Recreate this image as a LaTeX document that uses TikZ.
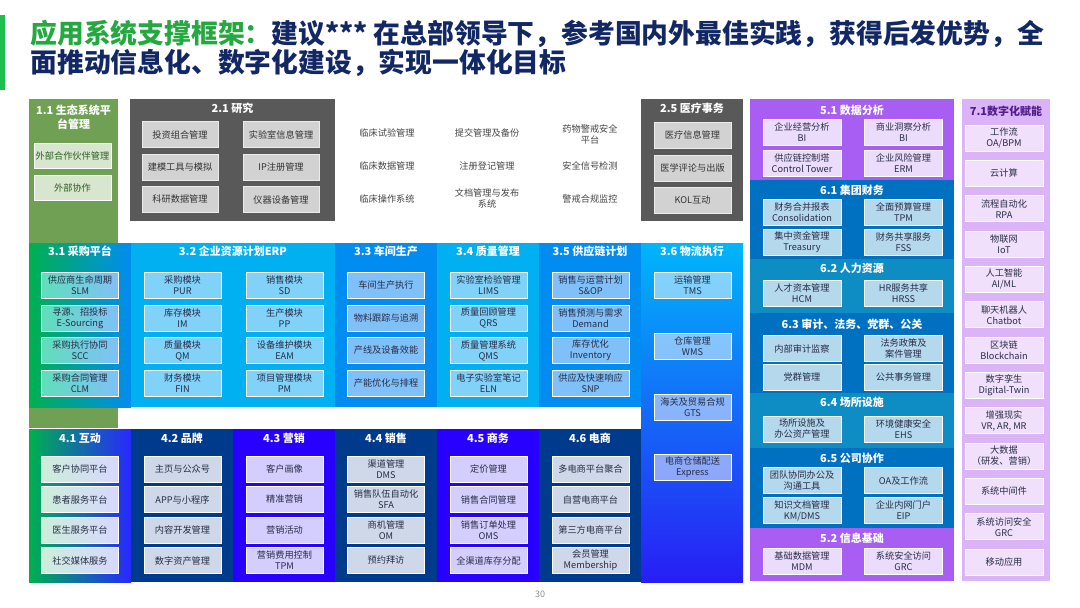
\documentclass[tikz,border=0pt]{standalone}
\usepackage{fontspec}
\setmainfont{Noto Sans CJK SC}
\usepackage{xcolor}
\usepackage{tikz}
\usetikzlibrary{positioning}
\definecolor{titlegreen}{RGB}{36,168,64}
\definecolor{titlenavy}{RGB}{18,40,100}
\definecolor{barg}{RGB}{30,190,80}
\definecolor{ecogreen}{RGB}{112,160,84}
\definecolor{ecoitem}{RGB}{216,230,208}
\definecolor{ecotxt}{RGB}{40,95,30}
\definecolor{resgray}{RGB}{89,89,89}
\definecolor{resitem}{RGB}{210,210,210}
\definecolor{midgray}{RGB}{70,70,70}
\definecolor{cyanA}{RGB}{0,176,240}
\definecolor{cyanAi}{RGB}{128,210,248}
\definecolor{blueB}{RGB}{0,140,240}
\definecolor{blueBi}{RGB}{128,192,248}
\definecolor{grnA}{RGB}{0,176,80}
\definecolor{navyC}{RGB}{0,58,140}
\definecolor{navyCi}{RGB}{206,216,232}
\definecolor{violD}{RGB}{40,0,255}
\definecolor{violDi}{RGB}{212,206,255}
\definecolor{purA}{RGB}{168,94,242}
\definecolor{puri}{RGB}{236,220,252}
\definecolor{finblue}{RGB}{0,112,192}
\definecolor{finteal}{RGB}{14,140,196}
\definecolor{fini}{RGB}{180,216,236}
\definecolor{digi}{RGB}{218,180,246}
\definecolor{digii}{RGB}{240,224,252}
\definecolor{digtxt}{RGB}{80,30,140}
\definecolor{itxt}{RGB}{40,45,70}
\tikzset{
  panel/.style={rectangle, inner sep=0pt, anchor=north west, minimum width=102pt},
  ttl/.style={font=\bfseries\fontsize{11}{14}\selectfont, text=white, align=center},
  itm/.style={rectangle, draw=white, line width=0.7pt, minimum width=77pt, minimum height=26pt,
              inner sep=1pt, align=center, font=\fontsize{9.2}{11}\selectfont, text=itxt},
  ritm/.style={itm, minimum width=78pt, fill=fini},
  mid/.style={align=center, font=\fontsize{9.2}{11}\selectfont, text=midgray}
}
\begin{document}
\begin{tikzpicture}[x=1pt, y=-1pt]
  \useasboundingbox (0,0) rectangle (1080,608);
  \fill[white] (0,0) rectangle (1080,608);
  % Title
  \fill[barg] (0,15) rectangle (5,90);
  \node[anchor=west, align=left, font=\bfseries\fontsize{26.8}{29}\selectfont, text=titlenavy] (title) at (27,48)
    {\textcolor{titlegreen}{应用系统支撑框架：}建议*** 在总部领导下，参考国内外最佳实践，获得后发优势，全\\面推动信息化、数字化建设，实现一体化目标};
  % Row 1
  \node[panel, fill=ecogreen, minimum width=89pt, minimum height=329pt] (p11) at (29,99) {};
  \node[ttl] (t11) at (73.5,117) {1.1 生态系统平\\台管理};
  \node[itm, fill=ecoitem, text=ecotxt, minimum height=25pt] (eco1) at (72.5,155.5) {外部合作伙伴管理};
  \node[itm, fill=ecoitem, text=ecotxt, minimum height=25pt] (eco2) at (72.5,188) {外部协作};
  \node[panel, fill=resgray, minimum width=205pt, minimum height=122pt] (p21) at (130,99) {};
  \node[ttl] (t21) at (232.5,108) {2.1 研究};
  \node[itm, fill=resitem, draw=white!85!gray, text=black!80, minimum width=76pt] (res1) at (180,134.5) {投资组合管理};
  \node[itm, fill=resitem, draw=white!85!gray, text=black!80, minimum width=76pt] (res2) at (281,134.5) {实验室信息管理};
  \node[itm, fill=resitem, draw=white!85!gray, text=black!80, minimum width=76pt] (res3) at (180,167) {建模工具与模拟};
  \node[itm, fill=resitem, draw=white!85!gray, text=black!80, minimum width=76pt] (res4) at (281,167) {IP注册管理};
  \node[itm, fill=resitem, draw=white!85!gray, text=black!80, minimum width=76pt] (res5) at (180,199.5) {科研数据管理};
  \node[itm, fill=resitem, draw=white!85!gray, text=black!80, minimum width=76pt] (res6) at (281,199.5) {仪器设备管理};
  \node[mid] (clin1) at (387,133) {临床试验管理};
  \node[mid] (clin2) at (387,166) {临床数据管理};
  \node[mid] (clin3) at (387,199) {临床操作系统};
  \node[mid] (sub1) at (487,133) {提交管理及备份};
  \node[mid] (sub2) at (487,166) {注册登记管理};
  \node[mid] (sub3) at (487,198.5) {文档管理与发布\\系统};
  \node[mid] (pv1) at (590,134) {药物警戒安全\\平台};
  \node[mid] (pv2) at (590,166) {安全信号检测};
  \node[mid] (pv3) at (590,199) {警戒合规监控};
  \node[panel, fill=resgray, minimum height=122pt] (p25) at (641,99) {};
  \node[ttl] (t25) at (692,108) {2.5 医疗事务};
  \node[itm, fill=resitem, draw=white!85!gray, text=black!80] (med1) at (692.5,135) {医疗信息管理};
  \node[itm, fill=resitem, draw=white!85!gray, text=black!80] (med2) at (692.5,168) {医学评论与出版};
  \node[itm, fill=resitem, draw=white!85!gray, text=black!80] (med3) at (692.5,200) {KOL互动};
  % Right block: 5.x / 6.x
  \node[panel, fill=purA, minimum width=204pt, minimum height=81pt] (b51) at (750,99) {};
  \node[panel, fill=finblue, minimum width=204pt, minimum height=79pt] (b61) at (750,180) {};
  \node[panel, fill=finteal, minimum width=204pt, minimum height=54pt] (b62) at (750,259) {};
  \node[panel, fill=finblue, minimum width=204pt, minimum height=80pt] (b63) at (750,313) {};
  \node[panel, fill=finteal, minimum width=204pt, minimum height=55pt] (b64) at (750,393) {};
  \node[panel, fill=finblue, minimum width=204pt, minimum height=80pt] (b65) at (750,448) {};
  \node[panel, fill=purA, minimum width=204pt, minimum height=53pt] (b52) at (750,528) {};
  \node[ttl] (t51) at (852,110) {5.1 数据分析};
  \node[ttl] (t61) at (852,190) {6.1 集团财务};
  \node[ttl] (t62) at (852,268) {6.2 人力资源};
  \node[ttl] (t63) at (852,324) {6.3 审计、法务、党群、公关};
  \node[ttl] (t64) at (852,402) {6.4 场所设施};
  \node[ttl] (t65) at (852,458) {6.5 公司协作};
  \node[ttl] (t52) at (852,538) {5.2 信息基础};
  \node[ritm, fill=puri] (da1) at (802,132) {企业经营分析\\BI};
  \node[ritm, fill=puri] (da2) at (903.5,132) {商业洞察分析\\BI};
  \node[ritm, fill=puri] (da3) at (802,163) {供应链控制塔\\Control Tower};
  \node[ritm, fill=puri] (da4) at (903.5,163) {企业风险管理\\ERM};
  \node[ritm] (fin1) at (802,212) {财务合并报表\\Consolidation};
  \node[ritm] (fin2) at (903.5,212) {全面预算管理\\TPM};
  \node[ritm] (fin3) at (802,242.5) {集中资金管理\\Treasury};
  \node[ritm] (fin4) at (903.5,242.5) {财务共享服务\\FSS};
  \node[ritm] (hr1) at (802,293) {人才资本管理\\HCM};
  \node[ritm] (hr2) at (903.5,293) {HR服务共享\\HRSS};
  \node[ritm] (aud1) at (802,348.5) {内部审计监察};
  \node[ritm] (aud2) at (903.5,348.5) {法务政策及\\案件管理};
  \node[ritm] (aud3) at (802,377) {党群管理};
  \node[ritm] (aud4) at (903.5,377) {公共事务管理};
  \node[ritm] (fac1) at (802,429) {场所设施及\\办公资产管理};
  \node[ritm] (fac2) at (903.5,429) {环境健康安全\\EHS};
  \node[ritm] (cop1) at (802,480.5) {团队协同办公及\\沟通工具};
  \node[ritm] (cop2) at (903.5,480.5) {OA及工作流};
  \node[ritm] (cop3) at (802,510.5) {知识文档管理\\KM/DMS};
  \node[ritm] (cop4) at (903.5,510.5) {企业内网门户\\EIP};
  \node[ritm, fill=puri] (inf1) at (802,561.5) {基础数据管理\\MDM};
  \node[ritm, fill=puri] (inf2) at (903.5,561.5) {系统安全访问\\GRC};
  % 7.1 column
  \node[panel, fill=digi, minimum width=88pt, minimum height=482pt] (p71) at (962,99) {};
  \node[ttl, text=digtxt] (t71) at (1006,111) {7.1数字化赋能};
  \node[ritm, fill=digii] (dig1) at (1004,138) {工作流\\OA/BPM};
  \node[ritm, fill=digii] (dig2) at (1004,173.3) {云计算};
  \node[ritm, fill=digii] (dig3) at (1004,208.7) {流程自动化\\RPA};
  \node[ritm, fill=digii] (dig4) at (1004,244) {物联网\\IoT};
  \node[ritm, fill=digii] (dig5) at (1004,279.3) {人工智能\\AI/ML};
  \node[ritm, fill=digii] (dig6) at (1004,314.7) {聊天机器人\\Chatbot};
  \node[ritm, fill=digii] (dig7) at (1004,350) {区块链\\Blockchain};
  \node[ritm, fill=digii] (dig8) at (1004,385.3) {数字孪生\\Digital-Twin};
  \node[ritm, fill=digii] (dig9) at (1004,420.7) {增强现实\\VR, AR, MR};
  \node[ritm, fill=digii] (dig10) at (1004,456) {大数据\\（研发、营销）};
  \node[ritm, fill=digii] (dig11) at (1004,491.3) {系统中间件};
  \node[ritm, fill=digii] (dig12) at (1004,526.7) {系统访问安全\\GRC};
  \node[ritm, fill=digii] (dig13) at (1004,562) {移动应用};
  % Row 3
  \node[panel, left color=grnA, right color=blueB, minimum height=164pt] (p31) at (29,243) {};
  \node[ttl] (t31) at (80,251) {3.1 采购平台};
  \node[itm, left color=green!25!cyanAi, right color=blueBi] (pur1) at (80,285.5) {供应商生命周期\\SLM};
  \node[itm, left color=green!25!cyanAi, right color=blueBi] (pur2) at (80,318) {寻源、招投标\\E-Sourcing};
  \node[itm, left color=green!25!cyanAi, right color=blueBi] (pur3) at (80,350.5) {采购执行协同\\SCC};
  \node[itm, left color=green!25!cyanAi, right color=blueBi] (pur4) at (80,383) {采购合同管理\\CLM};
  \node[panel, fill=cyanA, minimum width=204pt, minimum height=164pt] (p32) at (131,243) {};
  \node[ttl] (t32) at (233,251) {3.2 企业资源计划ERP};
  \node[itm, fill=cyanAi] (erp1) at (182.5,285.5) {采购模块\\PUR};
  \node[itm, fill=cyanAi] (erp2) at (284.5,285.5) {销售模块\\SD};
  \node[itm, fill=cyanAi] (erp3) at (182.5,318) {库存模块\\IM};
  \node[itm, fill=cyanAi] (erp4) at (284.5,318) {生产模块\\PP};
  \node[itm, fill=cyanAi] (erp5) at (182.5,350.5) {质量模块\\QM};
  \node[itm, fill=cyanAi] (erp6) at (284.5,350.5) {设备维护模块\\EAM};
  \node[itm, fill=cyanAi] (erp7) at (182.5,383) {财务模块\\FIN};
  \node[itm, fill=cyanAi] (erp8) at (284.5,383) {项目管理模块\\PM};
  \node[panel, fill=blueB, minimum height=164pt] (p33) at (335,243) {};
  \node[ttl] (t33) at (386,251) {3.3 车间生产};
  \node[itm, fill=blueBi] (mes1) at (386,285.5) {车间生产执行};
  \node[itm, fill=blueBi] (mes2) at (386,318) {物料跟踪与追溯};
  \node[itm, fill=blueBi] (mes3) at (386,350.5) {产线及设备效能};
  \node[itm, fill=blueBi] (mes4) at (386,383) {产能优化与排程};
  \node[panel, fill=cyanA, minimum height=164pt] (p34) at (437,243) {};
  \node[ttl] (t34) at (488,251) {3.4 质量管理};
  \node[itm, fill=cyanAi] (qm1) at (488.5,285.5) {实验室检验管理\\LIMS};
  \node[itm, fill=cyanAi] (qm2) at (488.5,318) {质量回顾管理\\QRS};
  \node[itm, fill=cyanAi] (qm3) at (488.5,350.5) {质量管理系统\\QMS};
  \node[itm, fill=cyanAi] (qm4) at (488.5,383) {电子实验室笔记\\ELN};
  \node[panel, fill=blueB, minimum height=164pt] (p35) at (539,243) {};
  \node[ttl] (t35) at (590,251) {3.5 供应链计划};
  \node[itm, fill=blueBi] (scp1) at (590.5,285.5) {销售与运营计划\\S\&OP};
  \node[itm, fill=blueBi] (scp2) at (590.5,318) {销售预测与需求\\Demand};
  \node[itm, fill=blueBi] (scp3) at (590.5,350.5) {库存优化\\Inventory};
  \node[itm, fill=blueBi] (scp4) at (590.5,383) {供应及快速响应\\SNP};
  \node[panel, top color={rgb,255:red,0;green,182;blue,250}, bottom color={rgb,255:red,40;green,30;blue,245}, minimum height=339pt] (p36) at (641,243) {};
  \node[ttl] (t36) at (692,251) {3.6 物流执行};
  \node[itm, fill=white, fill opacity=0.5, text opacity=1] (log1) at (692.5,285.5) {运输管理\\TMS};
  \node[itm, fill=white, fill opacity=0.5, text opacity=1] (log2) at (692.5,346) {仓库管理\\WMS};
  \node[itm, fill=white, fill opacity=0.5, text opacity=1] (log3) at (692.5,407) {海关及贸易合规\\GTS};
  \node[itm, fill=white, fill opacity=0.5, text opacity=1] (log4) at (692.5,467.5) {电商仓储配送\\Express};
  % Row 4
  \node[panel, left color=grnA, right color={rgb,255:red,40;green,40;blue,255}, minimum height=153pt] (p41) at (29,429) {};
  \node[ttl] (t41) at (80,438) {4.1 互动};
  \node[itm, left color={rgb,255:red,205;green,238;blue,218}, right color={rgb,255:red,215;green,215;blue,255}] (int1) at (80,469) {客户协同平台};
  \node[itm, left color={rgb,255:red,205;green,238;blue,218}, right color={rgb,255:red,215;green,215;blue,255}] (int2) at (80,499.5) {患者服务平台};
  \node[itm, left color={rgb,255:red,205;green,238;blue,218}, right color={rgb,255:red,215;green,215;blue,255}] (int3) at (80,530) {医生服务平台};
  \node[itm, left color={rgb,255:red,205;green,238;blue,218}, right color={rgb,255:red,215;green,215;blue,255}] (int4) at (80,560.5) {社交媒体服务};
  \node[panel, fill=navyC, minimum height=153pt] (p42) at (131,429) {};
  \node[ttl] (t42) at (182,438) {4.2 品牌};
  \node[itm, fill=navyCi] (brd1) at (182.5,469) {主页与公众号};
  \node[itm, fill=navyCi] (brd2) at (182.5,499.5) {APP与小程序};
  \node[itm, fill=navyCi] (brd3) at (182.5,530) {内容开发管理};
  \node[itm, fill=navyCi] (brd4) at (182.5,560.5) {数字资产管理};
  \node[panel, fill=violD, minimum height=153pt] (p43) at (233,429) {};
  \node[ttl] (t43) at (284,438) {4.3 营销};
  \node[itm, fill=violDi] (mkt1) at (284.5,469) {客户画像};
  \node[itm, fill=violDi] (mkt2) at (284.5,499.5) {精准营销};
  \node[itm, fill=violDi] (mkt3) at (284.5,530) {营销活动};
  \node[itm, fill=violDi] (mkt4) at (284.5,560.5) {营销费用控制\\TPM};
  \node[panel, fill=navyC, minimum height=153pt] (p44) at (335,429) {};
  \node[ttl] (t44) at (386,438) {4.4 销售};
  \node[itm, fill=navyCi] (sal1) at (386,469) {渠道管理\\DMS};
  \node[itm, fill=navyCi] (sal2) at (386,499.5) {销售队伍自动化\\SFA};
  \node[itm, fill=navyCi] (sal3) at (386,530) {商机管理\\OM};
  \node[itm, fill=navyCi] (sal4) at (386,560.5) {预约拜访};
  \node[panel, fill=violD, minimum height=153pt] (p45) at (437,429) {};
  \node[ttl] (t45) at (488,438) {4.5 商务};
  \node[itm, fill=violDi] (com1) at (488.5,469) {定价管理};
  \node[itm, fill=violDi] (com2) at (488.5,499.5) {销售合同管理};
  \node[itm, fill=violDi] (com3) at (488.5,530) {销售订单处理\\OMS};
  \node[itm, fill=violDi] (com4) at (488.5,560.5) {全渠道库存分配};
  \node[panel, fill=navyC, minimum height=153pt] (p46) at (539,429) {};
  \node[ttl] (t46) at (590,438) {4.6 电商};
  \node[itm, fill=navyCi] (ecm1) at (590.5,469) {多电商平台聚合};
  \node[itm, fill=navyCi] (ecm2) at (590.5,499.5) {自营电商平台};
  \node[itm, fill=navyCi] (ecm3) at (590.5,530) {第三方电商平台};
  \node[itm, fill=navyCi] (ecm4) at (590.5,560.5) {会员管理\\Membership};
  % Page number
  \node[font=\fontsize{9}{11}\selectfont, text=black!45] (pgno) at (540,594) {30};
\end{tikzpicture}
\end{document}
